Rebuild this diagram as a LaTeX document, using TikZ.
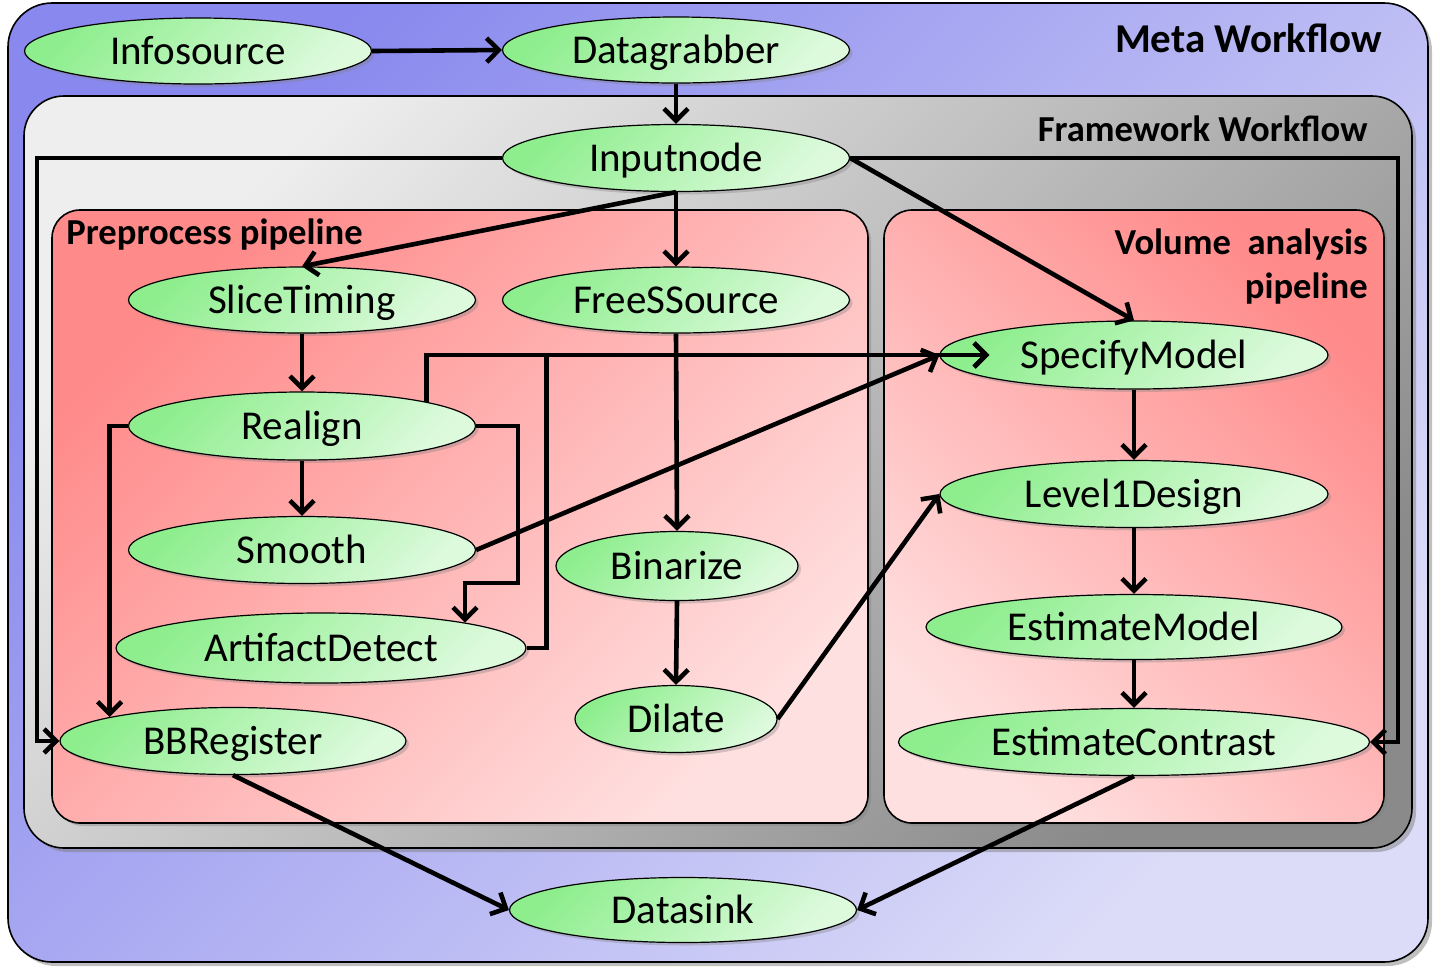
\documentclass[tikz,border=0pt]{standalone}
\usepackage{fontspec}
\setmainfont{Carlito}
\usetikzlibrary{shapes.geometric,arrows.meta,shadows,calc}
\definecolor{metaA}{HTML}{8888EE}
\definecolor{metaB}{HTML}{DCDCF8}
\definecolor{fwA}{HTML}{EEEEEE}
\definecolor{fwB}{HTML}{8A8A8A}
\definecolor{ppA}{HTML}{FF8A8A}
\definecolor{ppB}{HTML}{FFE0E0}
\definecolor{ndA}{HTML}{8EEE8E}
\definecolor{ndB}{HTML}{DDFADD}
\begin{document}
\begin{tikzpicture}[x=0.5pt,y=-0.5pt,
  box/.style={draw=black, line width=0.8pt},
  boxlbl/.style={inner sep=0pt, font=\bfseries\fontsize{18.3}{22}\selectfont},
  wf/.style={ellipse, draw=black, line width=0.6pt, inner sep=0pt,
    top color=ndA, bottom color=ndB, shading angle=45,
    text height=13.5pt, text depth=0.5pt,
    font=\fontsize{20.5}{24}\selectfont,
    drop shadow={shadow xshift=1.5pt, shadow yshift=-1.5pt, opacity=0.35}},
  conn/.style={line width=2.3pt, -{Straight Barb[length=6pt,width=12pt]}}
]
\useasboundingbox (0,0) rectangle (1434,971);
% containers
\path[box, top color=metaA, bottom color=metaB, shading angle=45, rounded corners=22pt,
  drop shadow={shadow xshift=2pt, shadow yshift=-2pt, opacity=0.5}] (8,3) rectangle (1428,962);
\path[box, top color=fwA, bottom color=fwB, shading angle=45, rounded corners=20pt,
  drop shadow={shadow xshift=2pt, shadow yshift=-2pt, opacity=0.5}] (24,96) rectangle (1412,848);
\path[box, top color=ppA, bottom color=ppB, shading angle=45, rounded corners=14pt,
  drop shadow={shadow xshift=1.5pt, shadow yshift=-1.5pt, opacity=0.4}] (52,210) rectangle (868,823);
\path[box, top color=ppA, bottom color=ppB, shading angle=-45, rounded corners=14pt,
  drop shadow={shadow xshift=1.5pt, shadow yshift=-1.5pt, opacity=0.4}] (884,210) rectangle (1384,823);
% container labels
\node[inner sep=0pt, anchor=east, font=\bfseries\fontsize{20.5}{24}\selectfont] (metalbl) at (1382,38) {Meta Workflow};
\node[boxlbl, anchor=east] (fwlbl) at (1368,129) {Framework Workflow};
\node[boxlbl, anchor=west] (pplbl) at (66,235) {Preprocess pipeline};
\node[boxlbl, anchor=east, align=right] (vallbl) at (1368,267) {Volume\ \ analysis\\pipeline};
% nodes
\node[wf, minimum width=173.5pt, minimum height=33pt] (info) at (198,51) {Infosource};
\node[wf, minimum width=173.5pt, minimum height=33pt] (grab) at (676,50) {Datagrabber};
\node[wf, minimum width=173.5pt, minimum height=33.5pt] (input) at (676,158) {Inputnode};
\node[wf, minimum width=173.5pt, minimum height=33pt] (slice) at (302,300) {SliceTiming};
\node[wf, minimum width=173.5pt, minimum height=33pt] (free) at (676,300) {FreeSSource};
\node[wf, minimum width=194pt, minimum height=34pt] (spec) at (1134,355) {SpecifyModel};
\node[wf, minimum width=173.5pt, minimum height=34pt] (realign) at (302,426) {Realign};
\node[wf, minimum width=173.5pt, minimum height=33.5pt] (smooth) at (302,550) {Smooth};
\node[wf, minimum width=121pt, minimum height=34.5pt] (bin) at (677,566) {Binarize};
\node[wf, minimum width=194pt, minimum height=33.5pt] (l1) at (1134,494) {Level1Design};
\node[wf, minimum width=208pt, minimum height=32.5pt] (emod) at (1134,627) {EstimateModel};
\node[wf, minimum width=205pt, minimum height=35pt] (art) at (321,648) {ArtifactDetect};
\node[wf, minimum width=101pt, minimum height=33.5pt] (dil) at (676,719) {Dilate};
\node[wf, minimum width=173pt, minimum height=33.5pt] (bbr) at (233,741) {BBRegister};
\node[wf, minimum width=235.5pt, minimum height=33.5pt] (econ) at (1134,742) {EstimateContrast};
\node[wf, minimum width=173.5pt, minimum height=32.5pt] (sink) at (683,910) {Datasink};
% connectors
\draw[conn] (info.east) -- (grab.west);
\draw[conn] (grab.south) -- (input.north);
\draw[conn] (input.west) -- ++(-465,0) |- (bbr.west);
\draw[conn] (input.east) -- ++(548,0) |- (econ.east);
\draw[conn] (input.south) -- (slice.north);
\draw[conn] (input.south) -- (free.north);
\draw[conn] (input.east) -- (spec.north);
\draw[conn] (slice.south) -- (realign.north);
\draw[conn] (realign.south) -- (smooth.north);
\draw[conn] (realign.11) |- ([xshift=25pt]spec.west);
\draw[conn] (art.east) -- ++(20,0) |- ([xshift=25pt]spec.west);
\draw[conn] (smooth.east) -- (spec.west);
\draw[conn] (realign.east) -| ++(42,157) -| (art.10);
\draw[conn] (realign.west) -| (bbr.169);
\draw[conn] (free.south) -- (bin.north);
\draw[conn] (bin.south) -- (dil.north);
\draw[conn] (dil.east) -- (l1.west);
\draw[conn] (spec.south) -- (l1.north);
\draw[conn] (l1.south) -- (emod.north);
\draw[conn] (emod.south) -- (econ.north);
\draw[conn] (bbr.south) -- (sink.west);
\draw[conn] (econ.south) -- (sink.east);
\end{tikzpicture}
\end{document}
